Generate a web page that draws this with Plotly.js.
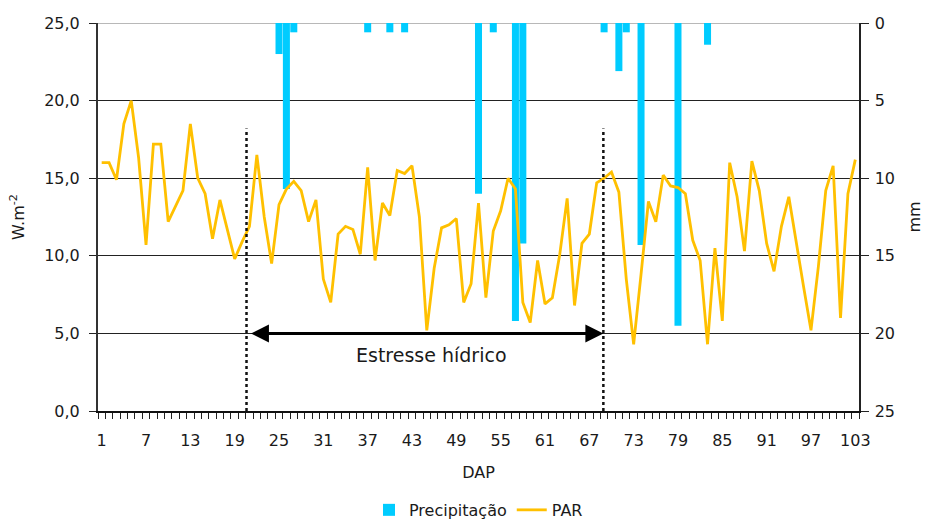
<!DOCTYPE html>
<html>
<head>
<meta charset="utf-8">
<script src="https://cdn.plot.ly/plotly-3.0.1.min.js"></script>
<style>html,body{margin:0;padding:0;background:#fff;}#chart{width:927px;height:520px;}</style>
</head>
<body>
<div id="chart"></div>
<script>
const dap = [1,2,3,4,5,6,7,8,9,10,11,12,13,14,15,16,17,18,19,20,21,22,23,24,25,26,27,28,29,30,31,32,33,34,35,36,37,38,39,40,41,42,43,44,45,46,47,48,49,50,51,52,53,54,55,56,57,58,59,60,61,62,63,64,65,66,67,68,69,70,71,72,73,74,75,76,77,78,79,80,81,82,83,84,85,86,87,88,89,90,91,92,93,94,95,96,97,98,99,100,101,102,103];

const par = [16.0,16.0,14.9,18.5,20.0,16.3,10.7,17.2,17.2,12.2,
             13.2,14.2,18.5,15.0,14.0,11.1,13.6,11.7,9.8,10.9,
             11.9,16.5,12.5,9.5,13.3,14.3,14.8,14.2,12.2,13.6,
             8.5,7.0,11.4,11.9,11.7,10.1,15.7,9.7,13.4,12.6,
             15.5,15.3,15.8,12.5,5.2,9.2,11.8,12.0,12.4,7.0,
             8.2,13.4,7.3,11.6,12.9,15.0,14.3,7.0,5.7,9.7,
             6.9,7.3,10.1,13.7,6.8,10.8,11.4,14.7,15.0,15.4,
             14.1,8.5,4.3,8.8,13.5,12.2,15.2,14.5,14.4,14.0,
             11.0,9.7,4.3,10.5,5.8,16.0,13.8,10.3,16.1,14.2,
             10.8,9.0,11.9,13.8,10.8,8.0,5.2,9.3,14.2,15.8,
             6.0,14.0,16.2];

const precipitacao = [0,0,0,0,0,0,0,0,0,0,
                      0,0,0,0,0,0,0,0,0,0,
                      0,0,0,0,2.0,10.7,0.6,0,0,0,
                      0,0,0,0,0,0,0.6,0,0,0.6,
                      0,0.6,0,0,0,0,0,0,0,0,
                      0,11.0,0,0.6,0,0,19.2,14.2,0,0,
                      0,0,0,0,0,0,0,0,0.6,0,
                      3.1,0.6,0,14.3,0,0,0,0,19.5,0,
                      0,0,1.4,0,0,0,0,0,0,0,
                      0,0,0,0,0,0,0,0,0,0,
                      0,0,0];

const xTickVals = [1,7,13,19,25,31,37,43,49,55,61,67,73,79,85,91,97,103];
const xTickText = ['1','7','13','19','25','31','37','43','49','55','61','67','73','79','85','91','97','103'];
const yTickVals = [0,5,10,15,20,25];
const yLeftText = ['0,0','5,0','10,0','15,0','20,0','25,0'];
const yRightText = ['0','5','10','15','20','25'];

const stressStart = 20.6, stressEnd = 68.9, arrowStart = 21.0, arrowLevel = 5.0, dottedTop = 18.2;

const FONT = 'DejaVu Sans';
const TXT = '#1a1a1a';

const traces = [
  {
    type: 'bar', name: 'Precipitação', x: dap, y: precipitacao,
    xaxis: 'x', yaxis: 'y',
    marker: {color: '#00CCFF', line: {width: 0}},
    hoverinfo: 'x+y'
  },
  {
    type: 'scatter', mode: 'lines', name: 'PAR', x: dap, y: par,
    xaxis: 'x', yaxis: 'y2',
    line: {color: '#FFC000', width: 2.8}
  }
];

const layout = {
  width: 927, height: 520,
  margin: {l: 98, r: 68, t: 23, b: 109, autoexpand: false},
  paper_bgcolor: '#ffffff', plot_bgcolor: '#ffffff',
  font: {family: FONT, size: 16, color: TXT},
  bargap: 0.05,
  showlegend: true,
  legend: {orientation: 'h', x: 0.5, xanchor: 'center', y: -0.255, yanchor: 'middle',
           font: {family: FONT, size: 16, color: TXT}, traceorder: 'normal'},
  xaxis: {
    range: [0.5, 103.5], tickmode: 'array', tickvals: xTickVals, ticktext: xTickText,
    ticks: '', showgrid: false, zeroline: false,
    showline: true, linecolor: '#111', linewidth: 2,
    ticklabelstandoff: 14,
    tickfont: {family: FONT, size: 16, color: TXT},
    minor: {tickmode: 'linear', tick0: 0.5, dtick: 1, ticks: 'outside', ticklen: 6, tickwidth: 1, tickcolor: '#222', showgrid: false},
    title: {text: 'DAP', standoff: 18, font: {family: FONT, size: 16, color: TXT}},
    automargin: false
  },
  yaxis: {
    side: 'right', range: [25, 0], tickmode: 'array', tickvals: yTickVals, ticktext: yRightText,
    ticks: 'outside', ticklen: 8, tickwidth: 1, tickcolor: '#222',
    showline: true, linecolor: '#222', linewidth: 1.5,
    showgrid: true, gridcolor: '#222', gridwidth: 1, zeroline: false,
    tickfont: {family: FONT, size: 16, color: TXT},
    ticklabelstandoff: 3,
    title: {text: 'mm', standoff: 14, font: {family: FONT, size: 16, color: TXT}},
    automargin: false
  },
  yaxis2: {
    overlaying: 'y', side: 'left', anchor: 'x', range: [0, 25],
    tickmode: 'array', tickvals: yTickVals, ticktext: yLeftText,
    ticks: 'outside', ticklen: 7, tickwidth: 1, tickcolor: '#222',
    showline: true, linecolor: '#333', linewidth: 2,
    showgrid: false, zeroline: false,
    tickfont: {family: FONT, size: 16, color: TXT},
    ticklabelstandoff: 6,
    title: {text: 'W.m<sup>-2</sup>', standoff: 16, font: {family: FONT, size: 16, color: TXT}},
    automargin: false
  },
  shapes: [
    {type: 'line', xref: 'paper', yref: 'y2', x0: 0, x1: 1, y0: 25, y1: 25,
     line: {color: '#a0a0a0', width: 1.5}, layer: 'below'},
    {type: 'line', xref: 'x', yref: 'y2', x0: stressStart, x1: stressStart, y0: 0, y1: dottedTop,
     line: {color: '#111', width: 2.5, dash: 'dot'}, layer: 'above'},
    {type: 'line', xref: 'x', yref: 'y2', x0: stressEnd, x1: stressEnd, y0: 0, y1: dottedTop,
     line: {color: '#111', width: 2.5, dash: 'dot'}, layer: 'above'}
  ],
  annotations: [
    {xref: 'x', yref: 'y2', x: stressEnd, y: arrowLevel, axref: 'x', ayref: 'y2', ax: arrowStart, ay: arrowLevel,
     text: '', showarrow: true, arrowhead: 2, arrowside: 'end+start', arrowwidth: 3, arrowsize: 1.2, arrowcolor: '#000',
     standoff: 0, startstandoff: 0},
    {xref: 'x', yref: 'y2', x: 45.7, y: 3.6, text: 'Estresse hídrico', showarrow: false,
     font: {family: FONT, size: 19, color: TXT}}
  ]
};

Plotly.newPlot('chart', traces, layout, {displayModeBar: false, staticPlot: true});
</script>
</body>
</html>
